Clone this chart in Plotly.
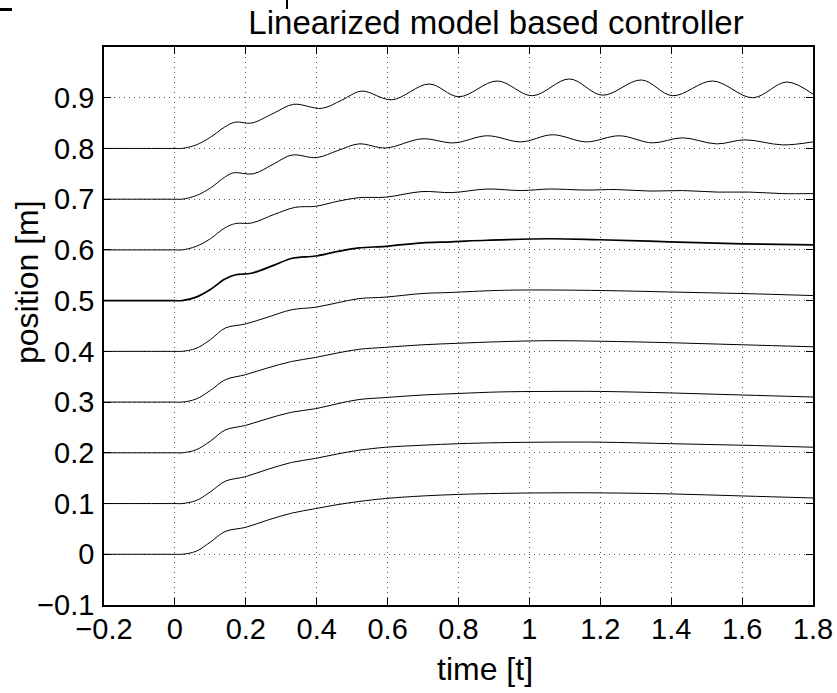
import plotly.graph_objects as go

# Position responses of the nine chain elements (time in s, position in m)
t_c0 = [-0.2, 0.0, 0.02, 0.06, 0.10, 0.142, 0.199, 0.26, 0.329, 0.397, 0.46, 0.519, 0.595, 0.70, 0.80, 0.915, 1.05, 1.2, 1.4, 1.6, 1.8]
y_c0 = [0.0, 0.0, 0.0, 0.006, 0.024, 0.045, 0.053, 0.067, 0.081, 0.090, 0.098, 0.104, 0.110, 0.115, 0.118, 0.120, 0.121, 0.121, 0.119, 0.115, 0.111]

t_c1 = t_c0
y_c1 = [0.1, 0.1, 0.1, 0.106, 0.123, 0.144, 0.153, 0.167, 0.181, 0.189, 0.198, 0.205, 0.211, 0.215, 0.218, 0.220, 0.221, 0.221, 0.218, 0.215, 0.211]

t_c2 = t_c0
y_c2 = [0.2, 0.2, 0.2, 0.206, 0.223, 0.245, 0.254, 0.267, 0.280, 0.287, 0.297, 0.305, 0.309, 0.314, 0.317, 0.320, 0.321, 0.321, 0.318, 0.314, 0.310]

t_c3 = t_c0
y_c3 = [0.3, 0.3, 0.3, 0.306, 0.323, 0.344, 0.354, 0.367, 0.380, 0.388, 0.397, 0.404, 0.408, 0.413, 0.416, 0.419, 0.421, 0.420, 0.417, 0.413, 0.409]

t_c4 = [-0.2, 0.0, 0.02, 0.06, 0.10, 0.142, 0.199, 0.26, 0.329, 0.397, 0.46, 0.519, 0.595, 0.697, 0.773, 0.906, 1.0, 1.2, 1.4, 1.6, 1.8]
y_c4 = [0.4, 0.4, 0.4, 0.406, 0.423, 0.446, 0.454, 0.467, 0.482, 0.487, 0.496, 0.504, 0.507, 0.514, 0.516, 0.520, 0.521, 0.520, 0.517, 0.514, 0.510]

t_c5 = [-0.2, 0.0, 0.02, 0.06, 0.10, 0.14, 0.171, 0.216, 0.28, 0.329, 0.397, 0.46, 0.519, 0.595, 0.697, 0.78, 0.88, 1.056, 1.197, 1.395, 1.602, 1.8]
y_c5 = [0.5, 0.5, 0.5, 0.507, 0.522, 0.542, 0.551, 0.554, 0.570, 0.583, 0.588, 0.597, 0.604, 0.607, 0.614, 0.616, 0.619, 0.622, 0.620, 0.616, 0.612, 0.610]

t_c6 = [-0.2, 0.0, 0.02, 0.06, 0.10, 0.14, 0.171, 0.216, 0.28, 0.34, 0.397, 0.46, 0.519, 0.595, 0.697, 0.782, 0.88, 0.977, 1.056, 1.16, 1.245, 1.34, 1.432, 1.53, 1.62, 1.715, 1.8]
y_c6 = [0.6, 0.6, 0.6, 0.607, 0.622, 0.643, 0.652, 0.653, 0.670, 0.684, 0.686, 0.696, 0.703, 0.704, 0.715, 0.713, 0.720, 0.717, 0.720, 0.718, 0.719, 0.716, 0.717, 0.714, 0.714, 0.711, 0.711]

t_c7 = [-0.2, 0.0, 0.02, 0.06, 0.10, 0.14, 0.165, 0.221, 0.28, 0.33, 0.40, 0.46, 0.519, 0.595, 0.697, 0.787, 0.881, 0.977, 1.065, 1.161, 1.254, 1.347, 1.432, 1.528, 1.608, 1.715, 1.8]
y_c7 = [0.7, 0.7, 0.7, 0.707, 0.722, 0.743, 0.752, 0.750, 0.770, 0.787, 0.782, 0.796, 0.809, 0.801, 0.819, 0.811, 0.825, 0.813, 0.827, 0.813, 0.825, 0.811, 0.821, 0.809, 0.817, 0.807, 0.813]

t_c8 = [-0.2, 0.0, 0.02, 0.06, 0.10, 0.14, 0.171, 0.216, 0.28, 0.335, 0.414, 0.47, 0.527, 0.612, 0.717, 0.801, 0.909, 1.008, 1.113, 1.206, 1.316, 1.404, 1.517, 1.630, 1.726, 1.8]
y_c8 = [0.8, 0.8, 0.8, 0.807, 0.822, 0.842, 0.852, 0.850, 0.870, 0.887, 0.879, 0.895, 0.913, 0.896, 0.927, 0.902, 0.933, 0.904, 0.937, 0.905, 0.935, 0.904, 0.933, 0.900, 0.931, 0.907]

series_t = [t_c0, t_c1, t_c2, t_c3, t_c4, t_c5, t_c6, t_c7, t_c8]
series_y = [y_c0, y_c1, y_c2, y_c3, y_c4, y_c5, y_c6, y_c7, y_c8]

x_ticks = [-0.2, 0, 0.2, 0.4, 0.6, 0.8, 1, 1.2, 1.4, 1.6, 1.8]
x_tick_text = ["\u22120.2", "0", "0.2", "0.4", "0.6", "0.8", "1", "1.2", "1.4", "1.6", "1.8"]
y_ticks = [-0.1, 0, 0.1, 0.2, 0.3, 0.4, 0.5, 0.6, 0.7, 0.8, 0.9]
y_tick_text = ["\u22120.1", "0", "0.1", "0.2", "0.3", "0.4", "0.5", "0.6", "0.7", "0.8", "0.9"]

title_text = "Linearized model based controller"
x_label = "time [t]"
y_label = "position [m]"

FONT = "Liberation Sans, Arial, Helvetica, sans-serif"
W, H = 837, 693
ML, MR, MT, MB = 104, 24, 47, 88

fig = go.Figure()
for i, (tx, ty) in enumerate(zip(series_t, series_y)):
    fig.add_trace(go.Scatter(
        x=tx, y=ty, mode="lines",
        line=dict(color="black", width=1.7 if i == 5 else 1.0, shape="spline", smoothing=1.0),
        showlegend=False, hoverinfo="skip",
    ))

axis_common = dict(
    showline=True, linecolor="black", linewidth=1.5, mirror="ticks",
    ticks="inside", ticklen=7, tickwidth=1, tickcolor="black",
    showgrid=True, gridcolor="#555555", gridwidth=1, griddash="1px,4px",
    zeroline=False, automargin=False,
    tickfont=dict(family=FONT, size=29, color="black"),
)

fig.update_xaxes(range=[-0.2, 1.8], tickvals=x_ticks, ticktext=x_tick_text,
                 ticklabelstandoff=-3, **axis_common)
fig.update_yaxes(range=[-0.1, 1.0], tickvals=y_ticks, ticktext=y_tick_text,
                 ticklabelstandoff=2, **axis_common)

pw, ph = W - ML - MR, H - MT - MB

fig.update_layout(
    width=W, height=H,
    margin=dict(l=ML, r=MR, t=MT, b=MB, pad=0, autoexpand=False),
    paper_bgcolor="white", plot_bgcolor="white",
    font=dict(family=FONT, color="black"),
    title=dict(text=title_text, font=dict(family=FONT, size=33, color="black"),
               x=496 / W, xref="container", xanchor="center",
               y=1 - 22 / H, yref="container", yanchor="middle"),
    annotations=[
        dict(text=x_label, xref="paper", yref="paper",
             x=(485 - ML) / pw, y=(H - MB - 669) / ph,
             xanchor="center", yanchor="middle", showarrow=False,
             font=dict(family=FONT, size=32, color="black")),
        dict(text=y_label, xref="paper", yref="paper",
             x=(27 - ML) / pw, y=(H - MB - 282) / ph, textangle=-90,
             xanchor="center", yanchor="middle", showarrow=False,
             font=dict(family=FONT, size=32, color="black")),
    ],
    shapes=[
        dict(type="rect", xref="paper", yref="paper",
             x0=-ML / pw, x1=(12 - ML) / pw,
             y0=(H - MB - 11) / ph, y1=(H - MB - 8) / ph,
             fillcolor="black", line=dict(width=0)),
        dict(type="rect", xref="paper", yref="paper",
             x0=(286 - ML) / pw, x1=(288 - ML) / pw,
             y0=(H - MB - 9) / ph, y1=(H - MB) / ph,
             fillcolor="black", line=dict(width=0)),
    ],
)

fig.write_html("out.html")
